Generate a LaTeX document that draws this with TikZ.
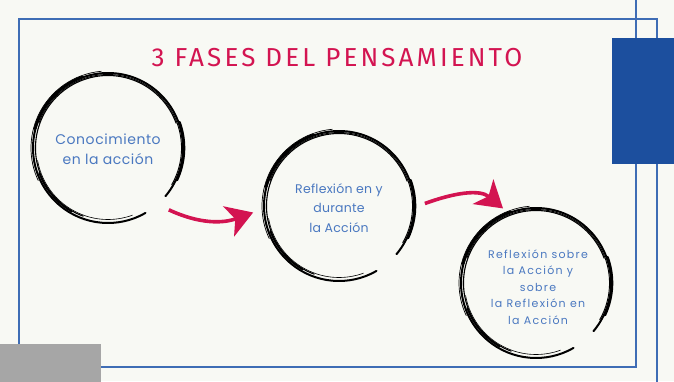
\documentclass[tikz,border=0pt]{standalone}
\usepackage{fontspec}
\setmainfont{Poppins}
\newfontfamily\titlefont[LetterSpace=12]{Fira Sans}
\usetikzlibrary{arrows.meta}
\definecolor{paper}{HTML}{F8F9F4}
\definecolor{frameblue}{HTML}{3F6DB5}
\definecolor{deepblue}{HTML}{1C4F9E}
\definecolor{textblue}{HTML}{4A78C0}
\definecolor{crimson}{HTML}{D31451}
\definecolor{greybox}{HTML}{A6A6A6}
\begin{document}
\begin{tikzpicture}[x=1pt,y=1pt,
    phase/.style={circle,minimum size=172pt,inner sep=0pt,outer sep=0pt,align=center,text=textblue},
    brush/.style={black,line cap=round},
    flow/.style={crimson,line width=3.6pt,-{Stealth[length=26pt,width=32pt,inset=7pt]}}]
  \path[use as bounding box] (0,0) rectangle (674,381);
  \clip (0,0) rectangle (674,381);
  \fill[paper] (0,0) rectangle (674,381);
  % frame
  \draw[frameblue,line width=1.8pt] (19,-5) rectangle (657,362);
  \draw[frameblue,line width=1.8pt] (-5,14) rectangle (636,386);
  \fill[deepblue] (612,217) rectangle (680,343);
  \fill[greybox] (-5,-5) rectangle (101,37);
  \node[crimson,font=\titlefont\fontsize{26}{30}\selectfont] (title) at (337,323) {3 FASES DEL PENSAMIENTO};
  % phases
  \node[phase,font=\addfontfeatures{LetterSpace=4}\fontsize{14}{20}\selectfont] (know) at (108,232) {Conocimiento\\en la acción};
  \node[phase,font=\addfontfeatures{LetterSpace=2}\fontsize{12.5}{19.5}\selectfont] (during) at (339,173) {Reflexión en y\\durante\\la Acción};
  \node[phase,font=\addfontfeatures{LetterSpace=12}\fontsize{11}{16.5}\selectfont] (about) at (538,94) {Reflexión sobre\\la Acción y\\sobre\\la Reflexión en\\la Acción};
  % brush rings
  \foreach \c/\x/\y in {know/108/233,during/339/175,about/536/98}{
    \foreach \a/\b/\r/\w in {-40/300/75/2.0, 20/250/72.5/1.1, 95/205/77/0.7, -30/160/73.5/0.9,
                             190/290/71.5/0.6, -25/20/76/2.6, 110/165/75.5/2.8, 200/240/73/2.0}
      \draw[brush,line width=\w pt] (\x,\y) ++(\a:\r) arc[start angle=\a,end angle=\b,radius=\r];
  }
  % arrows
  \draw[flow] (know.-45) to[out=-25,in=200] (during.183);
  \draw[flow] (during.3) to[out=20,in=140] (about.114);
\end{tikzpicture}
\end{document}
